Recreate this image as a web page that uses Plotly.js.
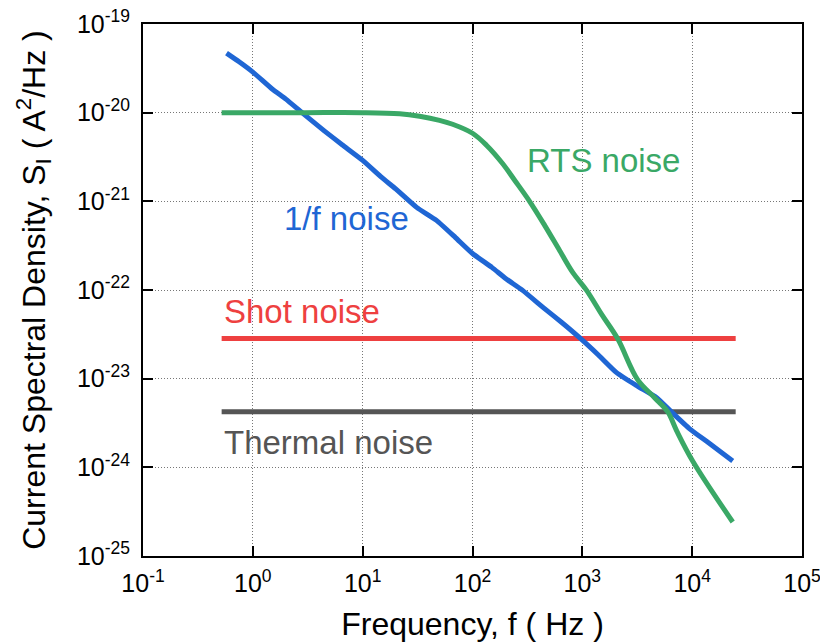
<!DOCTYPE html>
<html><head><meta charset="utf-8">
<script src="https://cdn.plot.ly/plotly-3.0.1.min.js"></script>
<style>body{margin:0;background:#fff}#c{width:820px;height:643px}</style>
</head><body><div id="c"></div>
<script>
// 1/f noise
const freq1f = [0.576,0.75,1.0,1.5,2.0,2.84,4.5,6.5,10,15,20,31,47,70,100,150,200,286,450,650,944,1400,2050,3200,4750,6500,9490,14000,23400];
const s1f = [4.70e-20,3.75e-20,2.87e-20,1.85e-20,1.42e-20,9.87e-21,6.2e-21,4.35e-21,2.90e-21,1.85e-21,1.38e-21,8.55e-22,6.1e-22,3.9e-22,2.58e-22,1.8e-22,1.35e-22,9.9e-23,6.2e-23,4.3e-23,2.9e-23,1.85e-23,1.17e-23,8.2e-24,6.1e-24,4.2e-24,2.72e-24,1.9e-24,1.18e-24];
// RTS noise
const freqRTS = [0.52,1,3,10,21.7,33,50.1,65.9,100,134,187,242,331,454,621,817,1094,1500,2094,3186,4548,5980,7226,10100,23400];
const sRTS = [1.0e-20,1.0e-20,1.0e-20,1.0e-20,9.7e-21,9.1e-21,8.2e-21,7.4e-21,5.86e-21,4.3e-21,2.69e-21,1.73e-21,1.0e-21,5.36e-22,2.79e-22,1.58e-22,9.9e-23,5.3e-23,2.83e-23,9.75e-24,6.1e-24,4.24e-24,2.58e-24,1.18e-24,2.42e-25];
// Shot & thermal noise (flat)
const freqFlat = [0.52,24900];
const sShot = [2.83e-23,2.83e-23];
const sThermal = [4.24e-24,4.24e-24];
// ticks
const xTickVals = [0.1,1,10,100,1000,10000,100000];
const xTickText = ['10<sup>-1</sup>','10<sup>0</sup>','10<sup>1</sup>','10<sup>2</sup>','10<sup>3</sup>','10<sup>4</sup>','10<sup>5</sup>'];
const yTickVals = [1e-25,1e-24,1e-23,1e-22,1e-21,1e-20,1e-19];
const yTickText = ['10<sup>-25</sup>','10<sup>-24</sup>','10<sup>-23</sup>','10<sup>-22</sup>','10<sup>-21</sup>','10<sup>-20</sup>','10<sup>-19</sup>'];

const cBlue='#1f66d4', cGreen='#3aa866', cRed='#ee4040', cGray='#555555';
const FONT='"Liberation Sans", Arial, sans-serif';

const traces = [
  {x:freqFlat,y:sThermal,mode:'lines',line:{color:cGray,width:5},name:'Thermal noise'},
  {x:freqFlat,y:sShot,mode:'lines',line:{color:cRed,width:5},name:'Shot noise'},
  {x:freq1f,y:s1f,mode:'lines',line:{color:cBlue,width:5,shape:'spline',smoothing:0.5},name:'1/f noise'},
  {x:freqRTS,y:sRTS,mode:'lines',line:{color:cGreen,width:5,shape:'spline',smoothing:1.0},name:'RTS noise'}
];
const axisCommon = {
  showline:true, linecolor:'#000', linewidth:2, mirror:'allticks',
  ticks:'inside', ticklen:10, tickwidth:2, tickcolor:'#000',
  showgrid:true, gridcolor:'#777', griddash:'1px,2px', gridwidth:1,
  zeroline:false, tickfont:{family:FONT,size:25,color:'#000'}, ticklabeloverflow:'allow'
};
const layout = {
  width:820, height:643, margin:{l:143,r:18,t:24,b:87},
  paper_bgcolor:'#fff', plot_bgcolor:'#fff', showlegend:false,
  font:{family:FONT},
  xaxis:Object.assign({}, axisCommon, {type:'log', range:[-1,5], tickmode:'array', tickvals:xTickVals, ticktext:xTickText,
    ticklabelstandoff:4,
    title:{text:'Frequency, f ( Hz )', font:{family:FONT,size:32,color:'#000'}, standoff:17}}),
  yaxis:Object.assign({}, axisCommon, {type:'log', range:[-25,-19], tickmode:'array', tickvals:yTickVals, ticktext:yTickText,
    ticklabelstandoff:6,
    title:{text:'Current Spectral Density, S<sub>I</sub> ( A<sup>2</sup>/Hz )', font:{family:FONT,size:32,color:'#000'}, standoff:22}}),
  annotations:[
    {x:2.474,y:-20.54,xref:'x',yref:'y',text:'RTS noise',showarrow:false,xanchor:'left',yanchor:'middle',font:{family:FONT,size:33,color:cGreen}},
    {x:0.27,y:-21.19,xref:'x',yref:'y',text:'1/f noise',showarrow:false,xanchor:'left',yanchor:'middle',font:{family:FONT,size:33,color:cBlue}},
    {x:-0.285,y:-22.24,xref:'x',yref:'y',text:'Shot noise',showarrow:false,xanchor:'left',yanchor:'middle',font:{family:FONT,size:33,color:cRed}},
    {x:-0.285,y:-23.72,xref:'x',yref:'y',text:'Thermal noise',showarrow:false,xanchor:'left',yanchor:'middle',font:{family:FONT,size:33,color:cGray}}
  ]
};
Plotly.newPlot('c', traces, layout, {staticPlot:true});
</script></body></html>
